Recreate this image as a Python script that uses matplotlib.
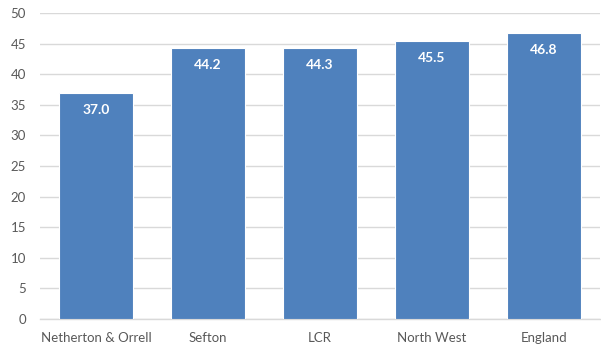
import matplotlib
matplotlib.use("Agg")
import matplotlib.pyplot as plt

categories = ["Netherton & Orrell", "Sefton", "LCR", "North West", "England"]
values = [37.0, 44.2, 44.3, 45.5, 46.8]
yticks = [0, 5, 10, 15, 20, 25, 30, 35, 40, 45, 50]

plt.rcParams["font.family"] = ["Lato", "DejaVu Sans"]

fig = plt.figure(figsize=(6.01, 3.47), dpi=100)
ax = fig.add_axes([40 / 601, 1 - 319 / 347, 560 / 601, 306 / 347])

x = range(len(categories))
bars = ax.bar(x, values, width=0.66, color="#4F81BD", edgecolor="white",
              linewidth=0.8, zorder=3)

# value labels inside the top of each bar
for rect, v in zip(bars, values):
    ax.annotate(f"{v:.1f}", xy=(rect.get_x() + rect.get_width() / 2, v),
                xytext=(0, -17), textcoords="offset pixels",
                ha="center", va="center", color="white", fontsize=10,
                fontweight="bold", zorder=4)

ax.set_xlim(-0.5, len(categories) - 0.5)
ax.set_ylim(0, 50)
ax.set_yticks(yticks)
ax.set_xticks(list(x))
ax.set_xticklabels(categories)
ax.yaxis.grid(True, color="#D9D9D9", linewidth=1, zorder=0)
ax.set_axisbelow(True)
for side in ["top", "right", "left"]:
    ax.spines[side].set_visible(False)
ax.spines["bottom"].set_color("#D9D9D9")
ax.spines["bottom"].set_linewidth(1)
ax.tick_params(axis="both", length=0, colors="#595959", labelsize=9.5)
ax.tick_params(axis="x", pad=9)
ax.tick_params(axis="y", pad=10)

fig.savefig("out.png", dpi=100)
